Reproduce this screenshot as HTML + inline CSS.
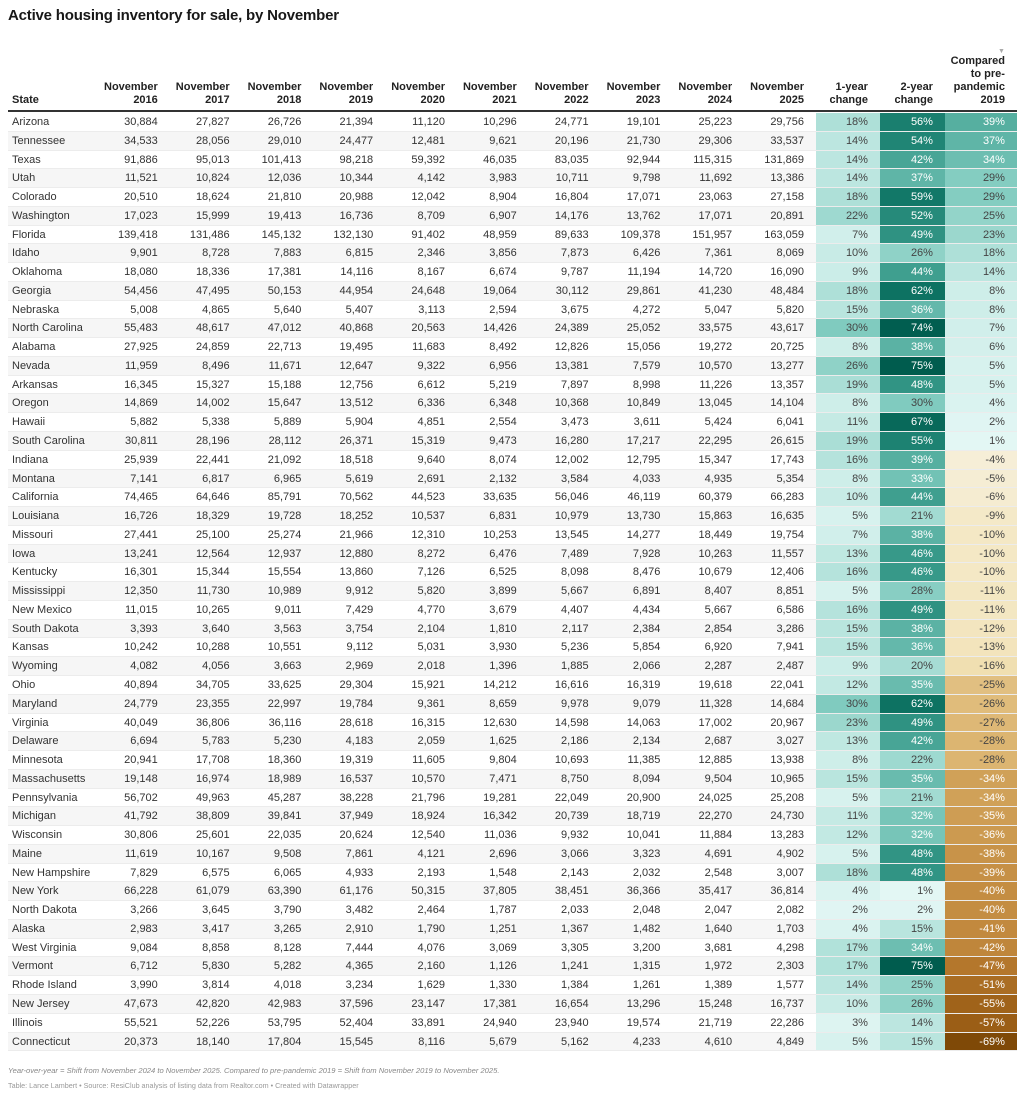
<!DOCTYPE html>
<html><head><meta charset="utf-8"><style>
*{margin:0;padding:0;box-sizing:border-box}
body{width:1024px;height:1096px;background:#fff;font-family:"Liberation Sans",Arial,sans-serif;color:#333;position:relative;overflow:hidden}
h1{position:absolute;left:8px;top:7px;font-size:15px;font-weight:bold;color:#181818;letter-spacing:-0.2px}
.hd{position:absolute;top:40px;left:8px;height:72px;display:flex;border-bottom:2px solid #333}
.hd div{font-size:11px;font-weight:bold;color:#222;line-height:13px;display:flex;align-items:flex-end;justify-content:flex-end;text-align:right;padding:0 12px 3px 0}
.hd div.s{justify-content:flex-start;text-align:left;padding-left:4px}
.tb{position:absolute;top:113px;left:8px}
.r{display:flex;height:18.78px;border-bottom:1px solid #ececec}
.r:nth-child(even) span:not(.h){background:#f6f6f6}
.r span{font-size:11px;line-height:18px;text-align:right;padding-right:12px;color:#333;white-space:nowrap}
.r span:first-child{text-align:left;padding-left:4px}
.w0{width:90px}.w1{width:71.8px}.wa{width:64px}.wb{width:65px}.wc{width:72px}
.ft1{position:absolute;left:8px;top:1066px;font-size:7.6px;font-style:italic;color:#888}
.ft2{position:absolute;left:8px;top:1081px;font-size:7.2px;color:#999}
</style></head><body>
<h1>Active housing inventory for sale, by November</h1>
<div class="hd">
<div class="s w0">State</div>
<div class="w1">November<br>2016</div><div class="w1">November<br>2017</div><div class="w1">November<br>2018</div><div class="w1">November<br>2019</div><div class="w1">November<br>2020</div><div class="w1">November<br>2021</div><div class="w1">November<br>2022</div><div class="w1">November<br>2023</div><div class="w1">November<br>2024</div><div class="w1">November<br>2025</div>
<div class="wa">1-year<br>change</div><div class="wb">2-year<br>change</div><div class="wc" style="position:relative">Compared<br>to pre-<br>pandemic<br>2019<span style="position:absolute;top:5px;right:12px;font-size:7px;color:#aaa">▼</span></div>
</div>
<div class="tb" id="tb">
<div class="r"><span>Arizona</span><span>30,884</span><span>27,827</span><span>26,726</span><span>21,394</span><span>11,120</span><span>10,296</span><span>24,771</span><span>19,101</span><span>25,223</span><span>29,756</span><span class="h">18%</span><span class="h">56%</span><span class="h">39%</span></div>
<div class="r"><span>Tennessee</span><span>34,533</span><span>28,056</span><span>29,010</span><span>24,477</span><span>12,481</span><span>9,621</span><span>20,196</span><span>21,730</span><span>29,306</span><span>33,537</span><span class="h">14%</span><span class="h">54%</span><span class="h">37%</span></div>
<div class="r"><span>Texas</span><span>91,886</span><span>95,013</span><span>101,413</span><span>98,218</span><span>59,392</span><span>46,035</span><span>83,035</span><span>92,944</span><span>115,315</span><span>131,869</span><span class="h">14%</span><span class="h">42%</span><span class="h">34%</span></div>
<div class="r"><span>Utah</span><span>11,521</span><span>10,824</span><span>12,036</span><span>10,344</span><span>4,142</span><span>3,983</span><span>10,711</span><span>9,798</span><span>11,692</span><span>13,386</span><span class="h">14%</span><span class="h">37%</span><span class="h">29%</span></div>
<div class="r"><span>Colorado</span><span>20,510</span><span>18,624</span><span>21,810</span><span>20,988</span><span>12,042</span><span>8,904</span><span>16,804</span><span>17,071</span><span>23,063</span><span>27,158</span><span class="h">18%</span><span class="h">59%</span><span class="h">29%</span></div>
<div class="r"><span>Washington</span><span>17,023</span><span>15,999</span><span>19,413</span><span>16,736</span><span>8,709</span><span>6,907</span><span>14,176</span><span>13,762</span><span>17,071</span><span>20,891</span><span class="h">22%</span><span class="h">52%</span><span class="h">25%</span></div>
<div class="r"><span>Florida</span><span>139,418</span><span>131,486</span><span>145,132</span><span>132,130</span><span>91,402</span><span>48,959</span><span>89,633</span><span>109,378</span><span>151,957</span><span>163,059</span><span class="h">7%</span><span class="h">49%</span><span class="h">23%</span></div>
<div class="r"><span>Idaho</span><span>9,901</span><span>8,728</span><span>7,883</span><span>6,815</span><span>2,346</span><span>3,856</span><span>7,873</span><span>6,426</span><span>7,361</span><span>8,069</span><span class="h">10%</span><span class="h">26%</span><span class="h">18%</span></div>
<div class="r"><span>Oklahoma</span><span>18,080</span><span>18,336</span><span>17,381</span><span>14,116</span><span>8,167</span><span>6,674</span><span>9,787</span><span>11,194</span><span>14,720</span><span>16,090</span><span class="h">9%</span><span class="h">44%</span><span class="h">14%</span></div>
<div class="r"><span>Georgia</span><span>54,456</span><span>47,495</span><span>50,153</span><span>44,954</span><span>24,648</span><span>19,064</span><span>30,112</span><span>29,861</span><span>41,230</span><span>48,484</span><span class="h">18%</span><span class="h">62%</span><span class="h">8%</span></div>
<div class="r"><span>Nebraska</span><span>5,008</span><span>4,865</span><span>5,640</span><span>5,407</span><span>3,113</span><span>2,594</span><span>3,675</span><span>4,272</span><span>5,047</span><span>5,820</span><span class="h">15%</span><span class="h">36%</span><span class="h">8%</span></div>
<div class="r"><span>North Carolina</span><span>55,483</span><span>48,617</span><span>47,012</span><span>40,868</span><span>20,563</span><span>14,426</span><span>24,389</span><span>25,052</span><span>33,575</span><span>43,617</span><span class="h">30%</span><span class="h">74%</span><span class="h">7%</span></div>
<div class="r"><span>Alabama</span><span>27,925</span><span>24,859</span><span>22,713</span><span>19,495</span><span>11,683</span><span>8,492</span><span>12,826</span><span>15,056</span><span>19,272</span><span>20,725</span><span class="h">8%</span><span class="h">38%</span><span class="h">6%</span></div>
<div class="r"><span>Nevada</span><span>11,959</span><span>8,496</span><span>11,671</span><span>12,647</span><span>9,322</span><span>6,956</span><span>13,381</span><span>7,579</span><span>10,570</span><span>13,277</span><span class="h">26%</span><span class="h">75%</span><span class="h">5%</span></div>
<div class="r"><span>Arkansas</span><span>16,345</span><span>15,327</span><span>15,188</span><span>12,756</span><span>6,612</span><span>5,219</span><span>7,897</span><span>8,998</span><span>11,226</span><span>13,357</span><span class="h">19%</span><span class="h">48%</span><span class="h">5%</span></div>
<div class="r"><span>Oregon</span><span>14,869</span><span>14,002</span><span>15,647</span><span>13,512</span><span>6,336</span><span>6,348</span><span>10,368</span><span>10,849</span><span>13,045</span><span>14,104</span><span class="h">8%</span><span class="h">30%</span><span class="h">4%</span></div>
<div class="r"><span>Hawaii</span><span>5,882</span><span>5,338</span><span>5,889</span><span>5,904</span><span>4,851</span><span>2,554</span><span>3,473</span><span>3,611</span><span>5,424</span><span>6,041</span><span class="h">11%</span><span class="h">67%</span><span class="h">2%</span></div>
<div class="r"><span>South Carolina</span><span>30,811</span><span>28,196</span><span>28,112</span><span>26,371</span><span>15,319</span><span>9,473</span><span>16,280</span><span>17,217</span><span>22,295</span><span>26,615</span><span class="h">19%</span><span class="h">55%</span><span class="h">1%</span></div>
<div class="r"><span>Indiana</span><span>25,939</span><span>22,441</span><span>21,092</span><span>18,518</span><span>9,640</span><span>8,074</span><span>12,002</span><span>12,795</span><span>15,347</span><span>17,743</span><span class="h">16%</span><span class="h">39%</span><span class="h">-4%</span></div>
<div class="r"><span>Montana</span><span>7,141</span><span>6,817</span><span>6,965</span><span>5,619</span><span>2,691</span><span>2,132</span><span>3,584</span><span>4,033</span><span>4,935</span><span>5,354</span><span class="h">8%</span><span class="h">33%</span><span class="h">-5%</span></div>
<div class="r"><span>California</span><span>74,465</span><span>64,646</span><span>85,791</span><span>70,562</span><span>44,523</span><span>33,635</span><span>56,046</span><span>46,119</span><span>60,379</span><span>66,283</span><span class="h">10%</span><span class="h">44%</span><span class="h">-6%</span></div>
<div class="r"><span>Louisiana</span><span>16,726</span><span>18,329</span><span>19,728</span><span>18,252</span><span>10,537</span><span>6,831</span><span>10,979</span><span>13,730</span><span>15,863</span><span>16,635</span><span class="h">5%</span><span class="h">21%</span><span class="h">-9%</span></div>
<div class="r"><span>Missouri</span><span>27,441</span><span>25,100</span><span>25,274</span><span>21,966</span><span>12,310</span><span>10,253</span><span>13,545</span><span>14,277</span><span>18,449</span><span>19,754</span><span class="h">7%</span><span class="h">38%</span><span class="h">-10%</span></div>
<div class="r"><span>Iowa</span><span>13,241</span><span>12,564</span><span>12,937</span><span>12,880</span><span>8,272</span><span>6,476</span><span>7,489</span><span>7,928</span><span>10,263</span><span>11,557</span><span class="h">13%</span><span class="h">46%</span><span class="h">-10%</span></div>
<div class="r"><span>Kentucky</span><span>16,301</span><span>15,344</span><span>15,554</span><span>13,860</span><span>7,126</span><span>6,525</span><span>8,098</span><span>8,476</span><span>10,679</span><span>12,406</span><span class="h">16%</span><span class="h">46%</span><span class="h">-10%</span></div>
<div class="r"><span>Mississippi</span><span>12,350</span><span>11,730</span><span>10,989</span><span>9,912</span><span>5,820</span><span>3,899</span><span>5,667</span><span>6,891</span><span>8,407</span><span>8,851</span><span class="h">5%</span><span class="h">28%</span><span class="h">-11%</span></div>
<div class="r"><span>New Mexico</span><span>11,015</span><span>10,265</span><span>9,011</span><span>7,429</span><span>4,770</span><span>3,679</span><span>4,407</span><span>4,434</span><span>5,667</span><span>6,586</span><span class="h">16%</span><span class="h">49%</span><span class="h">-11%</span></div>
<div class="r"><span>South Dakota</span><span>3,393</span><span>3,640</span><span>3,563</span><span>3,754</span><span>2,104</span><span>1,810</span><span>2,117</span><span>2,384</span><span>2,854</span><span>3,286</span><span class="h">15%</span><span class="h">38%</span><span class="h">-12%</span></div>
<div class="r"><span>Kansas</span><span>10,242</span><span>10,288</span><span>10,551</span><span>9,112</span><span>5,031</span><span>3,930</span><span>5,236</span><span>5,854</span><span>6,920</span><span>7,941</span><span class="h">15%</span><span class="h">36%</span><span class="h">-13%</span></div>
<div class="r"><span>Wyoming</span><span>4,082</span><span>4,056</span><span>3,663</span><span>2,969</span><span>2,018</span><span>1,396</span><span>1,885</span><span>2,066</span><span>2,287</span><span>2,487</span><span class="h">9%</span><span class="h">20%</span><span class="h">-16%</span></div>
<div class="r"><span>Ohio</span><span>40,894</span><span>34,705</span><span>33,625</span><span>29,304</span><span>15,921</span><span>14,212</span><span>16,616</span><span>16,319</span><span>19,618</span><span>22,041</span><span class="h">12%</span><span class="h">35%</span><span class="h">-25%</span></div>
<div class="r"><span>Maryland</span><span>24,779</span><span>23,355</span><span>22,997</span><span>19,784</span><span>9,361</span><span>8,659</span><span>9,978</span><span>9,079</span><span>11,328</span><span>14,684</span><span class="h">30%</span><span class="h">62%</span><span class="h">-26%</span></div>
<div class="r"><span>Virginia</span><span>40,049</span><span>36,806</span><span>36,116</span><span>28,618</span><span>16,315</span><span>12,630</span><span>14,598</span><span>14,063</span><span>17,002</span><span>20,967</span><span class="h">23%</span><span class="h">49%</span><span class="h">-27%</span></div>
<div class="r"><span>Delaware</span><span>6,694</span><span>5,783</span><span>5,230</span><span>4,183</span><span>2,059</span><span>1,625</span><span>2,186</span><span>2,134</span><span>2,687</span><span>3,027</span><span class="h">13%</span><span class="h">42%</span><span class="h">-28%</span></div>
<div class="r"><span>Minnesota</span><span>20,941</span><span>17,708</span><span>18,360</span><span>19,319</span><span>11,605</span><span>9,804</span><span>10,693</span><span>11,385</span><span>12,885</span><span>13,938</span><span class="h">8%</span><span class="h">22%</span><span class="h">-28%</span></div>
<div class="r"><span>Massachusetts</span><span>19,148</span><span>16,974</span><span>18,989</span><span>16,537</span><span>10,570</span><span>7,471</span><span>8,750</span><span>8,094</span><span>9,504</span><span>10,965</span><span class="h">15%</span><span class="h">35%</span><span class="h">-34%</span></div>
<div class="r"><span>Pennsylvania</span><span>56,702</span><span>49,963</span><span>45,287</span><span>38,228</span><span>21,796</span><span>19,281</span><span>22,049</span><span>20,900</span><span>24,025</span><span>25,208</span><span class="h">5%</span><span class="h">21%</span><span class="h">-34%</span></div>
<div class="r"><span>Michigan</span><span>41,792</span><span>38,809</span><span>39,841</span><span>37,949</span><span>18,924</span><span>16,342</span><span>20,739</span><span>18,719</span><span>22,270</span><span>24,730</span><span class="h">11%</span><span class="h">32%</span><span class="h">-35%</span></div>
<div class="r"><span>Wisconsin</span><span>30,806</span><span>25,601</span><span>22,035</span><span>20,624</span><span>12,540</span><span>11,036</span><span>9,932</span><span>10,041</span><span>11,884</span><span>13,283</span><span class="h">12%</span><span class="h">32%</span><span class="h">-36%</span></div>
<div class="r"><span>Maine</span><span>11,619</span><span>10,167</span><span>9,508</span><span>7,861</span><span>4,121</span><span>2,696</span><span>3,066</span><span>3,323</span><span>4,691</span><span>4,902</span><span class="h">5%</span><span class="h">48%</span><span class="h">-38%</span></div>
<div class="r"><span>New Hampshire</span><span>7,829</span><span>6,575</span><span>6,065</span><span>4,933</span><span>2,193</span><span>1,548</span><span>2,143</span><span>2,032</span><span>2,548</span><span>3,007</span><span class="h">18%</span><span class="h">48%</span><span class="h">-39%</span></div>
<div class="r"><span>New York</span><span>66,228</span><span>61,079</span><span>63,390</span><span>61,176</span><span>50,315</span><span>37,805</span><span>38,451</span><span>36,366</span><span>35,417</span><span>36,814</span><span class="h">4%</span><span class="h">1%</span><span class="h">-40%</span></div>
<div class="r"><span>North Dakota</span><span>3,266</span><span>3,645</span><span>3,790</span><span>3,482</span><span>2,464</span><span>1,787</span><span>2,033</span><span>2,048</span><span>2,047</span><span>2,082</span><span class="h">2%</span><span class="h">2%</span><span class="h">-40%</span></div>
<div class="r"><span>Alaska</span><span>2,983</span><span>3,417</span><span>3,265</span><span>2,910</span><span>1,790</span><span>1,251</span><span>1,367</span><span>1,482</span><span>1,640</span><span>1,703</span><span class="h">4%</span><span class="h">15%</span><span class="h">-41%</span></div>
<div class="r"><span>West Virginia</span><span>9,084</span><span>8,858</span><span>8,128</span><span>7,444</span><span>4,076</span><span>3,069</span><span>3,305</span><span>3,200</span><span>3,681</span><span>4,298</span><span class="h">17%</span><span class="h">34%</span><span class="h">-42%</span></div>
<div class="r"><span>Vermont</span><span>6,712</span><span>5,830</span><span>5,282</span><span>4,365</span><span>2,160</span><span>1,126</span><span>1,241</span><span>1,315</span><span>1,972</span><span>2,303</span><span class="h">17%</span><span class="h">75%</span><span class="h">-47%</span></div>
<div class="r"><span>Rhode Island</span><span>3,990</span><span>3,814</span><span>4,018</span><span>3,234</span><span>1,629</span><span>1,330</span><span>1,384</span><span>1,261</span><span>1,389</span><span>1,577</span><span class="h">14%</span><span class="h">25%</span><span class="h">-51%</span></div>
<div class="r"><span>New Jersey</span><span>47,673</span><span>42,820</span><span>42,983</span><span>37,596</span><span>23,147</span><span>17,381</span><span>16,654</span><span>13,296</span><span>15,248</span><span>16,737</span><span class="h">10%</span><span class="h">26%</span><span class="h">-55%</span></div>
<div class="r"><span>Illinois</span><span>55,521</span><span>52,226</span><span>53,795</span><span>52,404</span><span>33,891</span><span>24,940</span><span>23,940</span><span>19,574</span><span>21,719</span><span>22,286</span><span class="h">3%</span><span class="h">14%</span><span class="h">-57%</span></div>
<div class="r"><span>Connecticut</span><span>20,373</span><span>18,140</span><span>17,804</span><span>15,545</span><span>8,116</span><span>5,679</span><span>5,162</span><span>4,233</span><span>4,610</span><span>4,849</span><span class="h">5%</span><span class="h">15%</span><span class="h">-69%</span></div>
</div>
<div class="ft1">Year-over-year = Shift from November 2024 to November 2025. Compared to pre-pandemic 2019 = Shift from November 2019 to November 2025.</div>
<div class="ft2">Table: Lance Lambert • Source: ResiClub analysis of listing data from Realtor.com • Created with Datawrapper</div>
<script>
var W=["w0","w1","w1","w1","w1","w1","w1","w1","w1","w1","w1","wa","wb","wc"];
var P=[[0,[230,248,246]],[15,[185,229,222]],[30,[128,203,191]],[45,[58,156,140]],[60,[15,117,101]],[75,[0,92,78]]];
var N=[[0,[247,243,227]],[15,[242,226,182]],[30,[217,174,102]],[45,[185,124,48]],[60,[147,86,15]],[70,[125,71,6]]];
function col(v){var S=v<0?N:P;v=Math.abs(v);for(var i=1;i<S.length;i++){if(v<=S[i][0]||i==S.length-1){var a=S[i-1],b=S[i],t=Math.min(1,(v-a[0])/(b[0]-a[0]));return "rgb("+[0,1,2].map(function(k){return Math.round(a[1][k]+(b[1][k]-a[1][k])*t)}).join(",")+")";}}}
document.querySelectorAll("#tb .r").forEach(function(r){r.querySelectorAll("span").forEach(function(s,i){s.className+=" "+W[i];if(s.classList.contains("h")){var v=parseFloat(s.textContent);s.style.background=col(v);if(Math.abs(v)>=32)s.style.color="#fff";else s.style.color="#444";}});});
</script>
</body></html>
